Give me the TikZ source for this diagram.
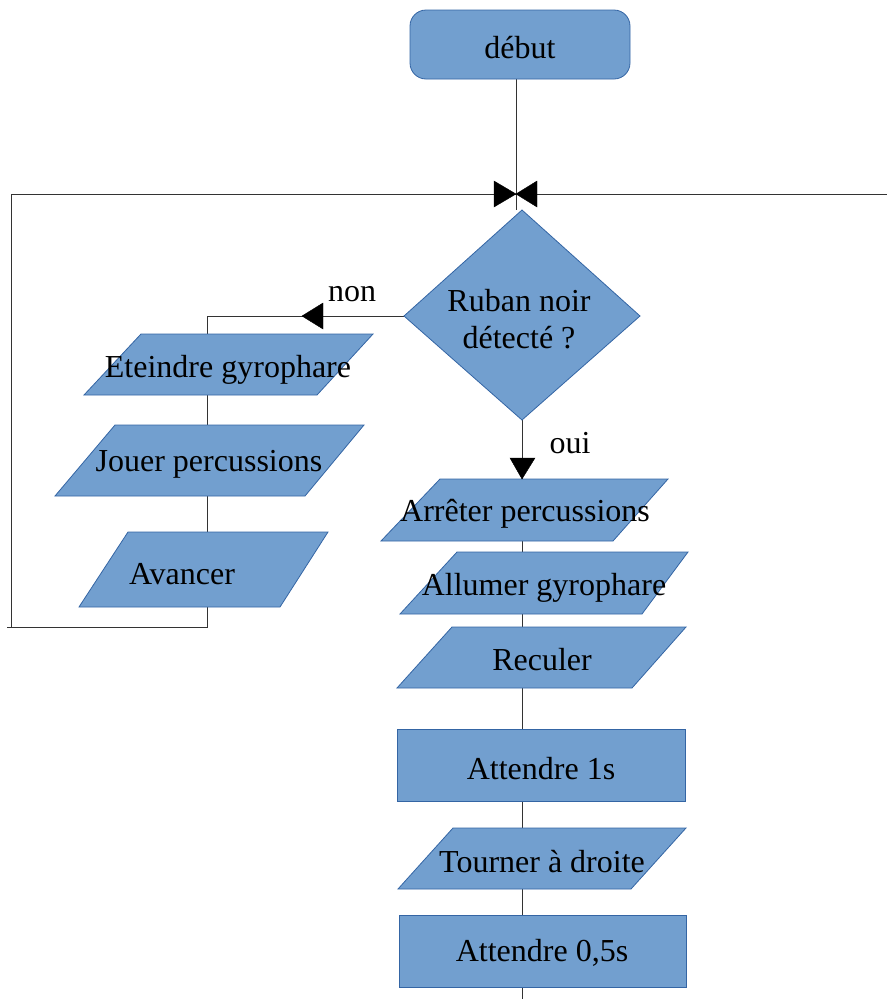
\documentclass[tikz,border=0pt]{standalone}
\usepackage{fontspec}
\setmainfont{Liberation Serif}
\definecolor{boxfill}{HTML}{729FCF}
\definecolor{boxline}{HTML}{3465A4}
\tikzset{
  shapebox/.style={fill=boxfill, draw=boxline, line width=0.8pt},
  flowline/.style={draw=black!80, line width=0.9pt},
  tip/.style={fill=black, draw=black, line width=0.4pt},
  lbl/.style={font=\fontsize{32}{37}\selectfont, text=black, align=center, inner sep=0pt},
}
\begin{document}
\begin{tikzpicture}[x=1pt,y=-1pt]
\useasboundingbox (0,0) rectangle (887,999);

% named points
\coordinate (startb) at (516,79);
\coordinate (junc) at (516,194);
\coordinate (juncb) at (516,210);
\coordinate (loopL) at (11,194);
\coordinate (loopR) at (887,194);
\coordinate (loopBL) at (11,627);
\coordinate (loopBE) at (7,627);
\coordinate (loopBR) at (207,627);
\coordinate (nonC) at (207,316);
\coordinate (dleft) at (404,316);
\coordinate (dbot) at (522,420);
\coordinate (colEnd) at (522,999);

% connectors
\draw[flowline] (startb) -- (juncb);
\draw[flowline] (loopL) -- (loopR);
\draw[flowline] (loopL) -- (loopBL);
\draw[flowline] (loopBE) -- (loopBR) -- (nonC) -- (dleft);
\draw[flowline] (dbot) -- (colEnd);

% start
\draw[shapebox, rounded corners=16pt] (410,10) rectangle (630,79);
\node[lbl] (debut) at (520,48) {début};

% decision
\draw[shapebox] (522,210) -- (640,316) -- (522,420) -- (404,316) -- cycle;
\node[lbl] (dec) at (519,319) {Ruban noir\\détecté ?};

% left branch
\draw[shapebox] (141,334) -- (373,334) -- (317,395) -- (84,395) -- cycle;
\node[lbl] (eteindre) at (228,370) {Eteindre gyrophare};
\draw[shapebox] (115,425) -- (364,425) -- (305,496) -- (55,496) -- cycle;
\node[lbl] (jouer) at (209,464) {Jouer percussions};
\draw[shapebox] (128,532) -- (328,532) -- (280,607) -- (79,607) -- cycle;
\node[lbl] (avancer) at (182,574) {Avancer};

% right branch
\draw[shapebox] (440,479) -- (668,479) -- (613,541) -- (381,541) -- cycle;
\node[lbl] (arreter) at (525,514) {Arrêter percussions};
\draw[shapebox] (457,552) -- (688,552) -- (642,614) -- (400,614) -- cycle;
\node[lbl] (allumer) at (544,588) {Allumer gyrophare};
\draw[shapebox] (452,627) -- (686,627) -- (632,688) -- (397,688) -- cycle;
\node[lbl] (reculer) at (542,660) {Reculer};
\draw[shapebox] (397,729) rectangle (685,801);
\node[lbl] (att1) at (541,769) {Attendre 1s};
\draw[shapebox] (453,828) -- (686,828) -- (631,889) -- (398,889) -- cycle;
\node[lbl] (tourner) at (542,862) {Tourner à droite};
\draw[shapebox] (399,915) rectangle (686,987);
\node[lbl] (att05) at (542,953) {Attendre 0,5s};

% arrowheads
\fill[tip] (494,181) -- (junc) -- (494,207) -- cycle;
\fill[tip] (537,181) -- (junc) -- (537,207) -- cycle;
\fill[tip] (302,316) -- (323,303) -- (323,329) -- cycle;
\fill[tip] (522,479) -- (510,458) -- (535,458) -- cycle;

% labels
\node[lbl] (non) at (352,294) {non};
\node[lbl] (oui) at (570,443) {oui};
\end{tikzpicture}
\end{document}
